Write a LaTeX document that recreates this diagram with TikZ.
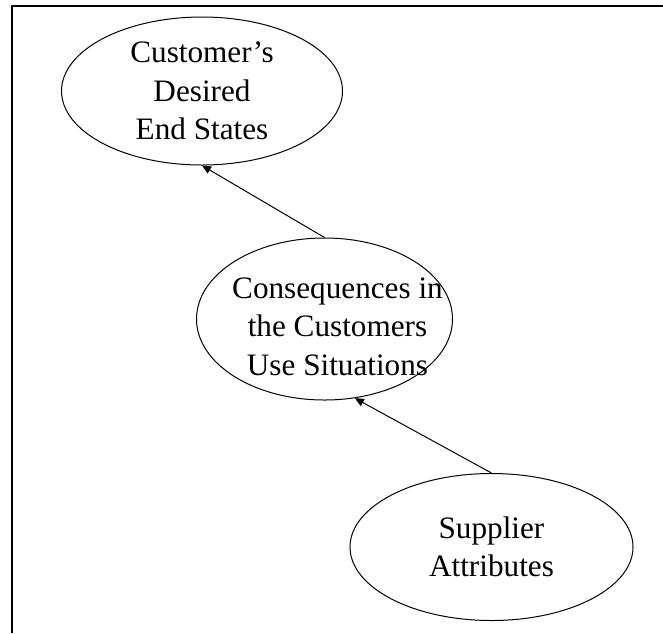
\documentclass[tikz,border=0pt]{standalone}
\usepackage{fontspec}
\setmainfont{Liberation Serif}
\usetikzlibrary{shapes.geometric, arrows.meta}

\begin{document}
\begin{tikzpicture}[x=0.5pt, y=-0.5pt,
            goal/.style={draw, ellipse, line width=0.5pt, inner xsep=-8pt, inner ysep=-2pt, align=center,
                font=\fontsize{15.6}{19.3}\selectfont},
            link/.style={line width=0.5pt, -{Triangle[length=4.5pt, width=4pt]}}]
            \useasboundingbox (0, 0) rectangle (663, 633);

            \draw[line width=1pt] (11.5, 633) -- (11.5, 6) -- (663, 6);

            \node[goal, minimum width=140.5pt, minimum height=74pt] (ends) at (202, 91) {Customer's\\Desired\\End States};
            % text sits a little right and low in this one
            \node[goal, inner xsep=-14.5pt, inner ysep=-5.5pt, minimum width=128pt, minimum height=81pt] (cons) at (324.5, 319)
                {\rule{0pt}{18pt}\hspace*{13pt}Consequences in\\\hspace*{13pt}the Customers\\\hspace*{13pt}Use Situations};
            \node[goal, minimum width=141.5pt, minimum height=73.5pt] (attr) at (491.5, 547) {Supplier\\Attributes};

            \draw[link] (cons.north) -- (ends.south);
            \draw[link] (attr.north) -- (cons.-69);
        \end{tikzpicture}
\end{document}
